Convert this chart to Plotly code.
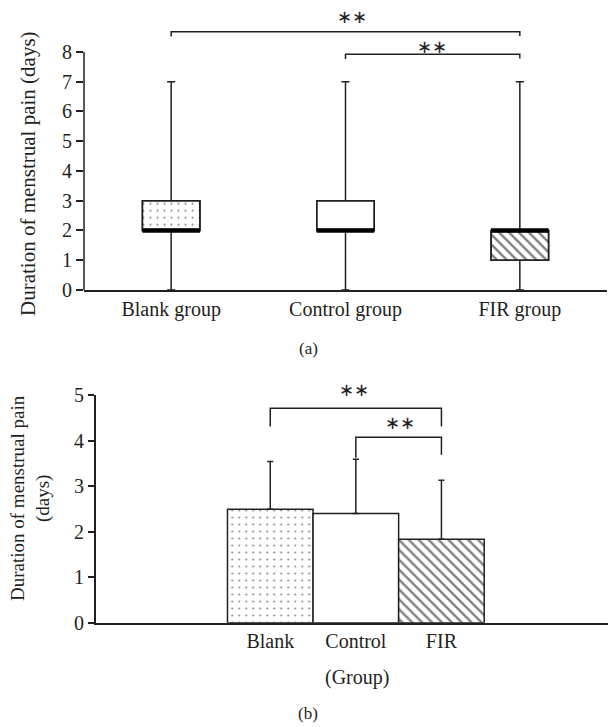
import plotly.graph_objects as go

# ---- data ----
box_groups = ["Blank group", "Control group", "FIR group"]
box_min = [0, 0, 0]
box_q1 = [2, 2, 1]
box_median = [2, 2, 2]
box_q3 = [3, 3, 2]
box_max = [7, 7, 7]
box_patterns = [".", "", "\\"]

bar_groups = ["Blank", "Control", "FIR"]
bar_mean = [2.49, 2.40, 1.83]
bar_sd = [1.05, 1.19, 1.30]
bar_patterns = [".", "", "\\"]

top_ticks = [0, 1, 2, 3, 4, 5, 6, 7, 8]
bottom_ticks = [0, 1, 2, 3, 4, 5]

FONT = "Liberation Serif"
INK = "#231f20"
OFF = 8  # page body margin
W, H = 616 - OFF, 727 - OFF


def px_x(p):
    return (p - OFF) / W


def px_y(p):
    return 1 - (p - OFF) / H


fig = go.Figure()

# ---------- panel (a): box plot ----------
fig.add_trace(go.Bar(
    x=box_groups,
    y=[q3 - q1 for q1, q3 in zip(box_q1, box_q3)],
    base=box_q1,
    width=0.33,
    marker=dict(color="white", line=dict(color=INK, width=1.5),
                pattern=dict(shape=box_patterns, size=[7, 8, 7],
                             solidity=[0.06, 0.3, 0.33], fgcolor="black",
                             bgcolor="white")),
    xaxis="x", yaxis="y", showlegend=False, hoverinfo="skip",
))
fig.add_trace(go.Box(
    x=box_groups, q1=box_q1, median=box_median, q3=box_q3,
    lowerfence=box_min, upperfence=box_max,
    width=0.33, whiskerwidth=0.14,
    fillcolor="rgba(0,0,0,0)", line=dict(color=INK, width=1.5),
    xaxis="x", yaxis="y", showlegend=False, boxpoints=False,
))
# thick median band
fig.add_trace(go.Box(
    x=box_groups, q1=box_median, median=box_median, q3=box_median,
    lowerfence=box_median, upperfence=box_median,
    width=0.33, whiskerwidth=0,
    fillcolor="rgba(0,0,0,0)", line=dict(color="black", width=4.5),
    xaxis="x", yaxis="y", showlegend=False, boxpoints=False,
))

# ---------- panel (b): bar chart ----------
fig.add_trace(go.Bar(
    x=bar_groups, y=bar_mean, width=1.0,
    marker=dict(color="white", line=dict(color=INK, width=1.5),
                pattern=dict(shape=bar_patterns, size=[7, 8, 7],
                             solidity=[0.06, 0.3, 0.33], fgcolor="black",
                             bgcolor="white")),
    error_y=dict(type="data", symmetric=False, array=bar_sd,
                 arrayminus=[0, 0, 0], color=INK, thickness=1.5, width=3),
    xaxis="x2", yaxis="y2", showlegend=False, hoverinfo="skip",
))

axis_font = dict(family=FONT, size=20, color=INK)

fig.update_layout(
    width=W, height=H,
    margin=dict(l=0, r=0, t=0, b=0),
    paper_bgcolor="white", plot_bgcolor="white",
    font=dict(family=FONT, size=20, color=INK),
    barmode="overlay",
    xaxis=dict(domain=[px_x(84), px_x(607)], anchor="y",
               type="category", categoryorder="array", categoryarray=box_groups,
               range=[-0.5, 2.5], showline=True, linecolor=INK, linewidth=1.5,
               ticks="", showgrid=False, zeroline=False, tickfont=axis_font,
               automargin=False),
    yaxis=dict(domain=[px_y(290), px_y(25.2)], anchor="x",
               range=[0, 8.9], tickvals=top_ticks, ticks="outside", ticklen=7,
               tickcolor=INK, tickwidth=1.5, showline=False, showgrid=False,
               zeroline=False, tickfont=axis_font, automargin=False),
    xaxis2=dict(domain=[px_x(95.7), 1.0], anchor="y2",
                type="category", categoryorder="array", categoryarray=bar_groups,
                range=[-2.04, 4.04], showline=True, linecolor=INK, linewidth=1.5,
                ticks="", showgrid=False, zeroline=False, tickfont=axis_font,
                automargin=False),
    yaxis2=dict(domain=[px_y(622.7), px_y(395)], anchor="x2",
                range=[0, 5], tickvals=bottom_ticks, ticks="outside", ticklen=6,
                tickcolor=INK, tickwidth=1.5, showline=True, linecolor=INK,
                linewidth=1.5, showgrid=False, zeroline=False, tickfont=axis_font,
                automargin=False),
)

line_style = dict(color=INK, width=1.5)
shapes = [
    # top y axis line (0..8)
    dict(type="line", xref="x domain", yref="y", x0=0, x1=0, y0=0, y1=8, line=line_style),
    # bracket Blank-FIR
    dict(type="path", xref="x", yref="y",
         path="M 0,8.52 L 0,8.68 L 2,8.68 L 2,8.54", line=line_style),
    # bracket Control-FIR
    dict(type="path", xref="x", yref="y",
         path="M 1,7.76 L 1,7.92 L 2,7.92 L 2,7.78", line=line_style),
    # bottom brackets
    dict(type="path", xref="x2", yref="y2",
         path="M 0,4.31 L 0,4.71 L 2,4.71 L 2,4.31", line=line_style),
    dict(type="path", xref="x2", yref="y2",
         path="M 1,3.62 L 1,4.07 L 2,4.07 L 2,3.69", line=line_style),
]
fig.update_layout(shapes=shapes)


def txt(text, x, y, size=20, angle=0):
    return dict(text=text, xref="paper", yref="paper", x=px_x(x), y=px_y(y),
                xanchor="center", yanchor="middle", textangle=angle,
                showarrow=False, borderpad=0, font=dict(size=size, color=INK))


ast_font = 18
ann = [
    txt("∗∗", 352, 17, ast_font),
    txt("∗∗", 432, 47, ast_font),
    txt("∗∗", 354, 390, ast_font),
    txt("∗∗", 400, 423, ast_font),
    txt("Duration of menstrual pain (days)", 28, 174, 21, -90),
    txt("Duration of menstrual pain<br>(days)", 30, 498, 19, -90),
    txt("(a)", 308, 348, 17),
    txt("(b)", 308, 713, 17),
    txt("(Group)", 357, 677, 20),
]
fig.update_layout(annotations=ann)

fig.write_html("out.html")
